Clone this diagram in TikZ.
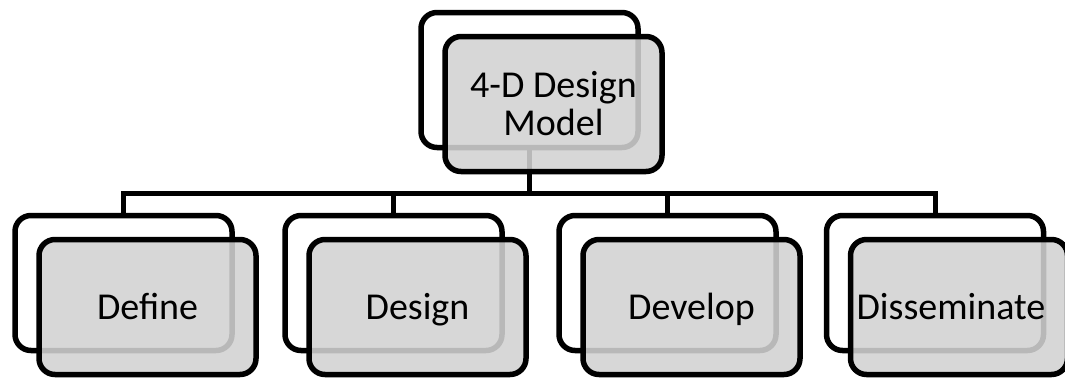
\documentclass[tikz,border=0pt]{standalone}
\usepackage{fontspec}
\setmainfont{Carlito}
\definecolor{boxgray}{RGB}{210,210,210}

\begin{document}
\begin{tikzpicture}[x=1pt,y=-1pt,
  shadowbox/.style = {rectangle,rounded corners=16pt,draw,line width=5.5pt,fill=white,
                      minimum width=217pt,minimum height=135pt},
  mainbox/.style = {shadowbox,fill=boxgray,fill opacity=.88,text opacity=1,
                    font=\fontsize{38}{38}\selectfont},
  stepname/.style = {mainbox,text height=25pt,text depth=0pt},
  link/.style = {draw,line width=5pt},]

\useasboundingbox (0,0) rectangle (1065,378);

% white boxes behind
\node[shadowbox] (model back) at (529.5, 80) {};
\node[shadowbox] (define back) at (123.5, 283) {};
\node[shadowbox] (design back) at (393.5, 283) {};
\node[shadowbox] (develop back) at (667.5, 283) {};
\node[shadowbox] (dissem back) at (935, 283) {};

% tree lines
\coordinate (bus) at (529.5, 193);
\draw[link] (model back.south) -- (bus);
\foreach \n in {define,design,develop,dissem}
  \draw[link] (bus) -| (\n\space back.north);

% gray boxes in front
\node[mainbox,align=center] (model) at (553.5, 104) {4-D Design\\Model};
\node[stepname] (define) at (147.5, 307) {Define};
\node[stepname] (design) at (417.5, 307) {Design};
\node[stepname] (develop) at (691.5, 307) {Develop};
\node[stepname] (dissem) at (959, 307) {\hspace*{-16pt}Disseminate};

\end{tikzpicture}
\end{document}
